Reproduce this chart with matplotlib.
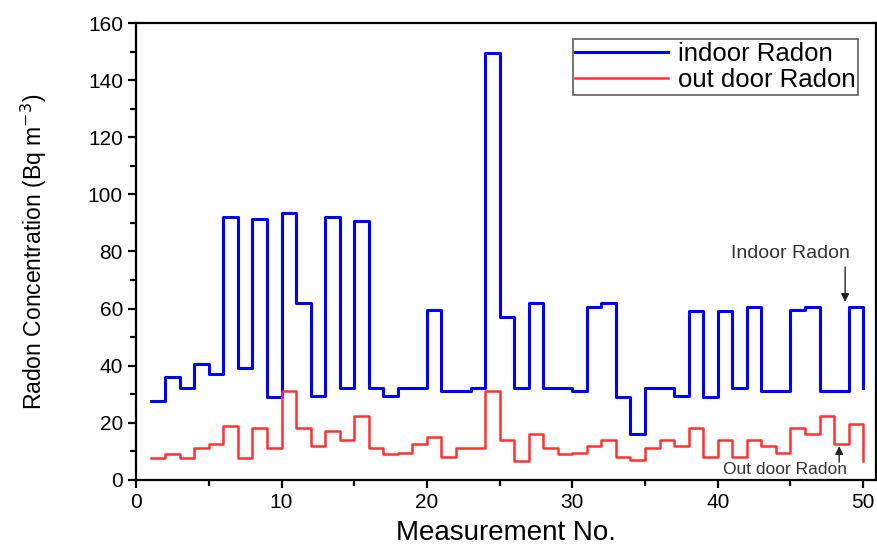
#!/usr/bin/env python3
"""Indoor vs outdoor radon concentration, step plot."""

import matplotlib
matplotlib.use("Agg")
import matplotlib.pyplot as plt
from matplotlib.ticker import MultipleLocator

plt.rcParams["font.family"] = ["Liberation Sans", "DejaVu Sans"]

measurement = list(range(1, 51))

indoor_radon = [
    27.5, 36, 32, 40.5, 37, 92, 39, 91.5, 29, 93.5,
    62, 29.5, 92, 32, 90.5, 32, 29.5, 32, 32, 59.5,
    31, 31, 32, 149.5, 57, 32, 62, 32, 32, 31,
    60.5, 62, 29, 16, 32, 32, 29.5, 59, 29, 59,
    32, 60.5, 31, 31, 59.5, 60.5, 31, 31, 60.5, 32,
]

outdoor_radon = [
    7.5, 9, 7.5, 11, 12.5, 19, 7.5, 18, 11, 31,
    18, 12, 17, 14, 22.5, 11, 9, 9.5, 12.5, 15,
    8, 11, 11, 31, 14, 6.5, 16, 11, 9, 9.5,
    12, 14, 8, 7, 11, 14, 12, 18, 8, 14,
    8, 14, 12, 9.5, 18, 16, 22.5, 12.5, 19.5, 6.5,
]

fig = plt.figure(figsize=(8.78, 5.49), dpi=100)
ax = fig.add_axes([0.155, 0.126, 0.843, 0.832])

ax.step(measurement, indoor_radon, where="post", color="#0000ff", lw=2.2,
        label="indoor Radon")
ax.step(measurement, outdoor_radon, where="post", color="#ff3030", lw=1.8,
        label="out door Radon")

ax.set_xlim(0, 50.9)
ax.set_ylim(0, 160)
ax.xaxis.set_major_locator(MultipleLocator(10))
ax.xaxis.set_minor_locator(MultipleLocator(5))
ax.yaxis.set_major_locator(MultipleLocator(20))
ax.yaxis.set_minor_locator(MultipleLocator(10))
ax.tick_params(which="major", direction="out", length=6, width=1.6, labelsize=15)
ax.tick_params(which="minor", direction="out", length=4, width=1.6)
for sp in ax.spines.values():
    sp.set_linewidth(1.6)

ax.set_xlabel("Measurement No.", fontsize=20, labelpad=6)
ax.set_ylabel("Radon Concentration (Bq m$^{-3}$)", fontsize=16.5, labelpad=28)

leg = ax.legend(loc="upper right", fontsize=18.5, frameon=True, fancybox=False,
                handlelength=3.6, handletextpad=0.4, borderpad=0.1,
                labelspacing=0.1, bbox_to_anchor=(0.993, 0.993))
leg.get_frame().set_edgecolor("#333333")
leg.get_frame().set_linewidth(1.2)

# labels with plain vertical arrows
ax.text(45.0, 79.3, "Indoor Radon", ha="center", va="center",
        fontsize=14, color="#333333")
ax.annotate("", xy=(48.76, 62.3), xytext=(48.76, 74.5),
            arrowprops=dict(arrowstyle="-|>", color="#222222", lw=1.0,
                            shrinkA=0, shrinkB=0, mutation_scale=12))
ax.text(44.6, 3.5, "Out door Radon", ha="center", va="center",
        fontsize=12.5, color="#333333")
ax.annotate("", xy=(48.35, 11.8), xytext=(48.35, 6.2),
            arrowprops=dict(arrowstyle="-|>", color="#222222", lw=1.0,
                            shrinkA=0, shrinkB=0, mutation_scale=12))

fig.savefig("out.png", dpi=100)
